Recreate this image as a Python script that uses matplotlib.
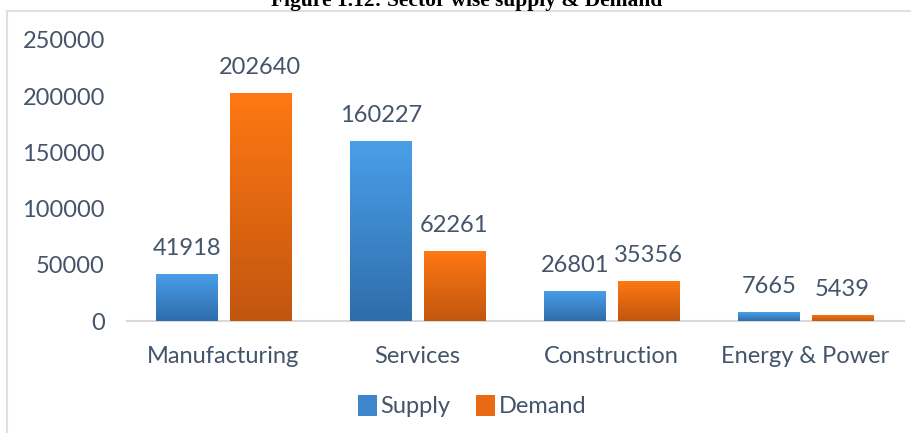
import numpy as np
import matplotlib
matplotlib.use('Agg')
import matplotlib.pyplot as plt
from matplotlib.colors import LinearSegmentedColormap
from matplotlib.lines import Line2D
from matplotlib.patches import Patch

sectors = ['Manufacturing', 'Services', 'Construction', 'Energy & Power']
supply = [41918, 160227, 26801, 7665]
demand = [202640, 62261, 35356, 5439]
y_ticks = [0, 50000, 100000, 150000, 200000, 250000]

text_col = '#44546a'
plt.rcParams['font.family'] = ['Lato', 'DejaVu Sans']

fig = plt.figure(figsize=(9.11, 4.33), dpi=100)
ax = fig.add_axes([127 / 911, 1 - 321 / 433, 777 / 911, 281 / 433])

x = np.arange(len(sectors))
w = 0.315
off = 0.19
blue_cm = LinearSegmentedColormap.from_list('b', ['#2f6dab', '#4a9fe9'])
orange_cm = LinearSegmentedColormap.from_list('o', ['#c2560f', '#ff7813'])

b1 = ax.bar(x - off, supply, w, color='#3d86cc', zorder=2)
b2 = ax.bar(x + off, demand, w, color='#e96a12', zorder=2)

# vertical gradient on each bar
grad = np.linspace(0, 1, 256).reshape(-1, 1)
for bars, cm in ((b1, blue_cm), (b2, orange_cm)):
    for p in bars:
        x0, y0 = p.get_x(), p.get_y()
        im = ax.imshow(grad, cmap=cm, origin='lower', aspect='auto',
                       extent=[x0, x0 + p.get_width(), y0, y0 + p.get_height()],
                       zorder=3)
        im.set_clip_path(p)

ax.bar_label(b1, fontsize=17, color=text_col, padding=11)
ax.bar_label(b2, fontsize=17, color=text_col, padding=11)

ax.set_xlim(-0.497, 3.507)
ax.set_ylim(0, 250000)
ax.set_yticks(y_ticks)
ax.set_yticklabels([str(v) for v in y_ticks])
ax.set_xticks(x)
ax.set_xticklabels(sectors)
ax.tick_params(axis='y', length=0, pad=16, labelsize=17, labelcolor=text_col)
ax.tick_params(axis='x', length=0, pad=18, labelsize=17, labelcolor=text_col)
for s in ('top', 'right', 'left'):
    ax.spines[s].set_visible(False)
ax.spines['bottom'].set_color('#d9d9d9')
ax.spines['bottom'].set_linewidth(1.5)

handles = [Patch(facecolor='#3d86cc', label='Supply'),
           Patch(facecolor='#e96a12', label='Demand')]
fig.legend(handles=handles, loc='center', bbox_to_anchor=(472 / 911, 1 - 406 / 433),
           ncol=2, frameon=False, fontsize=17, labelcolor=text_col,
           handlelength=0.8, handleheight=1.0, handletextpad=0.15, columnspacing=1.1)

# frame lines of the chart box
fig.add_artist(Line2D([7 / 911, 1], [1 - 11 / 433, 1 - 11 / 433], color='#dde1e6', lw=1.5))
fig.add_artist(Line2D([7 / 911, 7 / 911], [0, 1 - 11 / 433], color='#dde1e6', lw=1.5))

fig.text(467 / 911, 1 - 6 / 433, 'Figure 1.12: Sector wise supply & Demand',
         family='Liberation Serif', weight='bold', fontsize=15.5, color='black',
         ha='center', va='baseline')

fig.savefig('out.png', dpi=100, facecolor='white')
